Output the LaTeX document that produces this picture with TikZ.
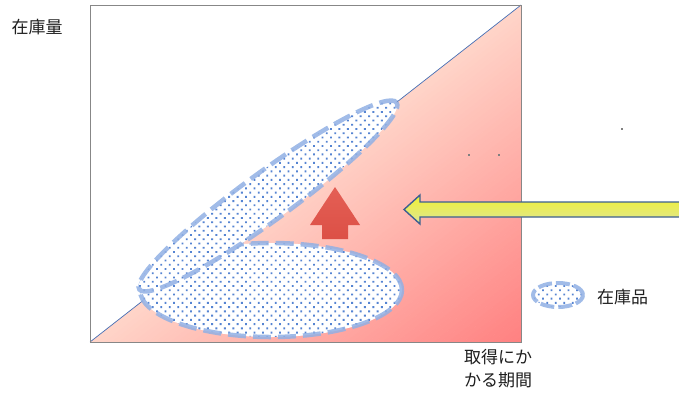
\documentclass[tikz,border=0pt]{standalone}
\usepackage{fontspec}
\setmainfont{Noto Sans CJK JP}
\usetikzlibrary{shapes.geometric,patterns.meta}
\definecolor{pinklight}{RGB}{255,212,200}
\definecolor{pinkdark}{RGB}{255,128,128}
\definecolor{dotblue}{RGB}{85,132,210}
\definecolor{dashblue}{RGB}{145,176,228}
\definecolor{framegray}{RGB}{135,135,135}
\definecolor{diagblue}{RGB}{70,110,180}
\definecolor{redarrow}{RGB}{220,80,70}
\definecolor{redarrowtop}{RGB}{228,95,85}
\definecolor{yellowtop}{RGB}{240,240,50}
\definecolor{yellowbot}{RGB}{222,230,150}
\definecolor{arrowborder}{RGB}{60,95,145}
\definecolor{txt}{RGB}{30,30,30}
\tikzset{
  stock/.style={ellipse, inner sep=0pt, preaction={fill=white},
    pattern={Dots[distance=6pt, angle=45, radius=1.3pt]}, pattern color=dotblue,
    draw=dashblue, draw opacity=0.85, line width=4.5pt, dash pattern=on 18pt off 7pt},
  lbl/.style={text=txt, font=\fontsize{17}{23}\selectfont, inner sep=0pt, align=center},
  speck/.style={fill=gray, minimum size=2pt, inner sep=0pt, rectangle}
}
\begin{document}
\begin{tikzpicture}[x=1pt,y=-1pt]
\useasboundingbox (0,0) rectangle (679,392);
% shaded triangle, gradient perpendicular to the diagonal
\begin{scope}
  \clip (90,342) -- (521,5) -- (521,342) -- cycle;
  \foreach \i in {0,...,59} {
    \pgfmathsetmacro{\ta}{\i*4.5}
    \pgfmathsetmacro{\tb}{\i*4.5+5}
    \pgfmathsetmacro{\pc}{\i/59*100}
    \fill[pinkdark!\pc!pinklight]
      ({90+\ta*0.616-600*0.788},{342+\ta*0.788+600*0.616}) --
      ({90+\ta*0.616+600*0.788},{342+\ta*0.788-600*0.616}) --
      ({90+\tb*0.616+600*0.788},{342+\tb*0.788-600*0.616}) --
      ({90+\tb*0.616-600*0.788},{342+\tb*0.788+600*0.616}) -- cycle;
  }
\end{scope}
\draw[diagblue, line width=0.7pt] (90,342) -- (521,5);
\draw[framegray, line width=0.8pt] (90,5) rectangle (521,342);
% ellipses
\node[stock, minimum width=262pt, minimum height=94pt] (bottom) at (271,290) {};
\node[stock, minimum width=318pt, minimum height=48pt, rotate=36] (tilted) at (268,196) {};
% red up arrow
\shade[top color=redarrowtop, bottom color=redarrow]
  (322,239) -- (348,239) -- (348,225) -- (360,225) -- (335,187) -- (310,225) -- (322,225) -- cycle;
% yellow arrow
\shade[top color=yellowtop, bottom color=yellowbot, draw=arrowborder, line width=1.4pt]
  (685,202) -- (420,202) -- (420,195) -- (404,209.5) -- (420,224) -- (420,217) -- (685,217) -- cycle;
% specks
\node[speck] (s1) at (469,155) {};
\node[speck] (s2) at (499,155) {};
\node[speck] (s3) at (622,129) {};
% legend
\node[stock, minimum width=50pt, minimum height=24pt, line width=4pt, dash pattern=on 14pt off 4pt] (leg) at (558,295) {};
\node[lbl, anchor=west] (legtxt) at (597,297) {在庫品};
% axis labels
\node[lbl] (ylab) at (37,27) {在庫量};
\node[lbl] (xlab) at (498,369) {取得にか\\かる期間};
\end{tikzpicture}
\end{document}
